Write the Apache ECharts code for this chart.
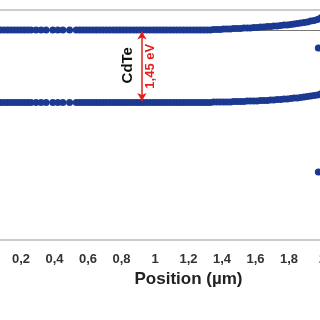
<!DOCTYPE html>
<html>
<head>
<meta charset="utf-8">
<script src="https://cdn.jsdelivr.net/npm/echarts@6/dist/echarts.min.js"></script>
<style>
  html, body { margin: 0; padding: 0; background: #fff; }
  #chart { width: 320px; height: 320px; }
</style>
</head>
<body>
<div id="chart"></div>
<script>
// ── 数据 ──
const xCdTe = [
  0.00, 0.02, 0.04, 0.06, 0.08, 0.10, 0.12, 0.14, 0.16, 0.18, 0.20, 0.22, 0.24, 0.26,
  0.29, 0.32, 0.35, 0.39, 0.42, 0.45, 0.49, 0.53,
  0.55, 0.57, 0.59, 0.61, 0.63, 0.65, 0.67, 0.69, 0.71, 0.73, 0.75, 0.77, 0.79, 0.81,
  0.83, 0.85, 0.87, 0.89, 0.91, 0.93, 0.95, 0.97, 0.99, 1.01, 1.03, 1.05, 1.07, 1.09,
  1.11, 1.13, 1.15, 1.17, 1.19, 1.21, 1.23, 1.25, 1.27, 1.29, 1.31, 1.33,
  1.35, 1.37, 1.39, 1.41, 1.43, 1.45, 1.47, 1.49, 1.51, 1.53, 1.55, 1.57, 1.59, 1.61,
  1.63, 1.65, 1.67, 1.69, 1.71, 1.73, 1.75, 1.77, 1.79, 1.81, 1.83, 1.85, 1.87, 1.89,
  1.91, 1.93, 1.95, 1.97, 1.99
];
const cbCdTe = [
  0, 0, 0, 0, 0, 0, 0, 0, 0, 0, 0, 0, 0, 0,
  0, 0, 0, 0, 0, 0, 0, 0,
  0, 0, 0, 0, 0, 0, 0, 0, 0, 0, 0, 0, 0, 0,
  0, 0, 0, 0, 0, 0, 0, 0, 0, 0, 0, 0, 0, 0,
  0, 0, 0, 0, 0, 0, 0, 0, 0, 0, 0, 0,
  0.01, 0.01, 0.01, 0.02, 0.02, 0.02, 0.03, 0.03, 0.03, 0.04, 0.04, 0.04, 0.05, 0.05,
  0.06, 0.06, 0.07, 0.07, 0.08, 0.08, 0.09, 0.10, 0.10, 0.11, 0.12, 0.13, 0.14, 0.15,
  0.16, 0.18, 0.19, 0.21, 0.24
];
const vbCdTe = [
  -1.45, -1.45, -1.45, -1.45, -1.45, -1.45, -1.45, -1.45, -1.45, -1.45, -1.45, -1.45, -1.45, -1.45,
  -1.45, -1.45, -1.45, -1.45, -1.45, -1.45, -1.45, -1.45,
  -1.45, -1.45, -1.45, -1.45, -1.45, -1.45, -1.45, -1.45, -1.45, -1.45, -1.45, -1.45, -1.45, -1.45,
  -1.45, -1.45, -1.45, -1.45, -1.45, -1.45, -1.45, -1.45, -1.45, -1.45, -1.45, -1.45, -1.45, -1.45,
  -1.45, -1.45, -1.45, -1.45, -1.45, -1.45, -1.45, -1.45, -1.45, -1.45, -1.45, -1.45,
  -1.44, -1.44, -1.44, -1.44, -1.44, -1.44, -1.43, -1.43, -1.43, -1.43, -1.42, -1.42, -1.42, -1.42,
  -1.41, -1.41, -1.41, -1.40, -1.40, -1.39, -1.39, -1.38, -1.38, -1.37, -1.36, -1.36, -1.35, -1.34,
  -1.33, -1.32, -1.31, -1.30, -1.28
];
const xCdS = [1.975, 2.00, 2.05, 2.10, 2.20, 2.30, 2.40];
const cbCdS = [-0.36, -0.36, -0.36, -0.36, -0.36, -0.36, -0.36];
const vbCdS = [-2.84, -2.84, -2.84, -2.84, -2.84, -2.84, -2.84];

const gapArrow = { x: 0.922, top: -0.03, bottom: -1.42 };
const materialLabel = 'CdTe';
const gapLabel = '1,45 eV';
const xName = 'Position (µm)';

// ── 样式 ──
const dotColor = '#1b3990';
const font = 'Liberation Sans';
const zip = (xs, ys) => xs.map((x, i) => [x, ys[i]]);

const bandSeries = (data) => ({
  type: 'line', data: data, symbol: 'circle', symbolSize: 7, showSymbol: true,
  itemStyle: { color: dotColor }, lineStyle: { color: dotColor, width: 1.5 },
  silent: true, animation: false
});

const chart = echarts.init(document.getElementById('chart'));
chart.setOption({
  animation: false,
  grid: {
    left: -12.5, right: -69.5, top: 10, bottom: 80,
    outerBoundsMode: 'none', containLabel: false,
    show: true, borderColor: '#999', borderWidth: 1
  },
  xAxis: {
    type: 'value', min: 0, max: 2.4, interval: 0.2,
    name: xName, nameLocation: 'middle', nameGap: 21,
    nameTextStyle: { fontFamily: font, fontWeight: 'bold', fontSize: 17, color: '#222' },
    axisLine: { lineStyle: { color: '#777' } },
    axisTick: { show: false },
    splitLine: { show: false },
    axisLabel: {
      fontFamily: font, fontWeight: 'bold', fontSize: 13, color: '#333', margin: 13,
      formatter: v => (+v.toFixed(1)).toString().replace('.', ',')
    }
  },
  yAxis: { type: 'value', min: -4.2, max: 0.4, show: false, splitLine: { show: false } },
  series: [
    Object.assign(bandSeries(zip(xCdTe, cbCdTe)), {
      markLine: {
        silent: true, symbol: ['arrow', 'arrow'], symbolSize: [7, 8],
        lineStyle: { color: '#e0201f', width: 1.5, type: 'solid' },
        label: { show: false },
        data: [[{ coord: [gapArrow.x, gapArrow.top] }, { coord: [gapArrow.x, gapArrow.bottom] }]]
      }
    }),
    bandSeries(zip(xCdTe, vbCdTe)),
    bandSeries(zip(xCdS, cbCdS)),
    bandSeries(zip(xCdS, vbCdS))
  ]
});

// ── 文字标注 ──
const mid = (gapArrow.top + gapArrow.bottom) / 2;
const pText = chart.convertToPixel({ gridIndex: 0 }, [gapArrow.x - 0.085, mid + 0.02]);
const pGap = chart.convertToPixel({ gridIndex: 0 }, [gapArrow.x + 0.048, mid + 0.0]);
chart.setOption({
  graphic: [
    { type: 'text', x: pText[0], y: pText[1], rotation: Math.PI / 2,
      style: { text: materialLabel, font: 'bold 15px "' + font + '"', fill: '#111', align: 'center', verticalAlign: 'middle' } },
    { type: 'text', x: pGap[0], y: pGap[1], rotation: Math.PI / 2,
      style: { text: gapLabel, font: 'bold 13px "' + font + '"', fill: '#e0201f', align: 'center', verticalAlign: 'middle' } }
  ]
});
</script>
</body>
</html>
